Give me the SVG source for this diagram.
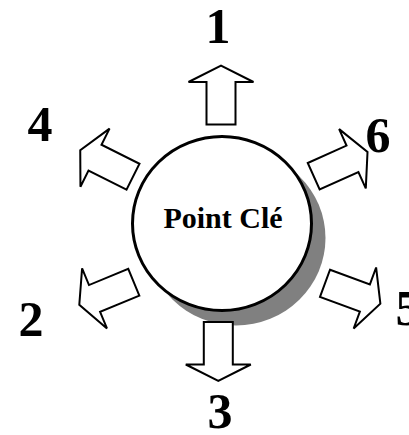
<svg xmlns="http://www.w3.org/2000/svg" width="409" height="435" viewBox="0 0 409 435">
  <style>
    .num { font-family: "Liberation Serif", "Times New Roman", serif; font-weight: bold; font-size: 50px; fill: #000; text-anchor: middle; }
    .title { font-family: "Liberation Serif", "Times New Roman", serif; font-weight: bold; font-size: 30px; fill: #000; text-anchor: middle; }
    .arrow { fill: #fff; stroke: #000; stroke-width: 2; stroke-linejoin: miter; }
  </style>
  <defs>
    <!-- block arrow pointing up, shaft base centred on the origin -->
    <polygon id="blockArrow" points="-14.5,0 -14.5,-42.5 -32.5,-42.5 0,-59 32.5,-42.5 14.5,-42.5 14.5,0"/>
  </defs>
  <rect width="409" height="435" fill="#fff"/>

  <g id="center">
    <ellipse cx="236" cy="238" rx="89.5" ry="87.5" fill="#808080"/>
    <ellipse cx="222" cy="223.5" rx="89.5" ry="87" fill="#fff" stroke="#000" stroke-width="3"/>
    <text class="title" x="223" y="228">Point Clé</text>
  </g>

  <g id="connectors">
    <use href="#blockArrow" class="arrow" transform="translate(221,124.5)"/>
    <use href="#blockArrow" class="arrow" transform="translate(218.3,322) rotate(180)"/>
    <use href="#blockArrow" class="arrow" transform="translate(133,176.7) rotate(-63.4)"/>
    <use href="#blockArrow" class="arrow" transform="translate(313.7,176.2) rotate(65.8)"/>
    <use href="#blockArrow" class="arrow" transform="translate(325,283.3) rotate(110.2)"/>
    <use href="#blockArrow" class="arrow" transform="translate(133.8,282.2) rotate(-112.5)"/>
  </g>

  <g id="label-1"><text class="num" x="218" y="43">1</text></g>
  <g id="label-2"><text class="num" x="31" y="336">2</text></g>
  <g id="label-3"><text class="num" x="220" y="428">3</text></g>
  <g id="label-4"><text class="num" x="40" y="141">4</text></g>
  <g id="label-5"><text class="num" x="408" y="325">5</text></g>
  <g id="label-6"><text class="num" x="378" y="152">6</text></g>
</svg>
